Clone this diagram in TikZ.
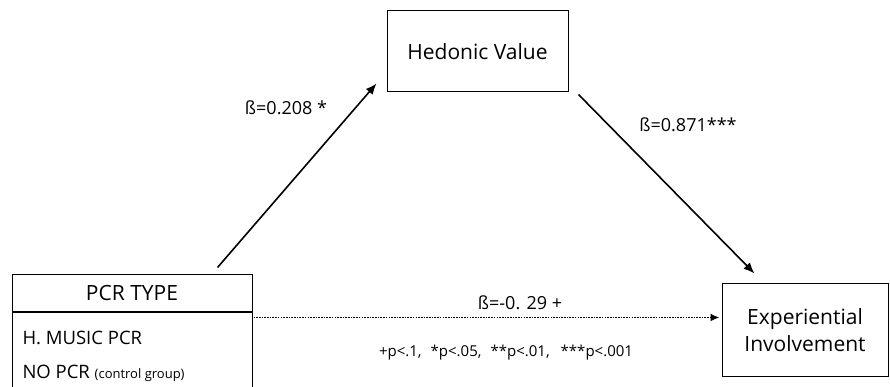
\documentclass[tikz,border=0pt]{standalone}
\usepackage{fontspec}
\setmainfont{Open Sans}
\usetikzlibrary{arrows.meta,calc}

\tikzset{
  varbox/.style={draw,line width=1pt,fill=white,inner sep=0pt,align=center},
  coef/.style={font=\fontsize{18}{20}\selectfont},
  arr/.style={line width=1.6pt,-{Latex[length=11pt,width=9pt]}},
  dotarr/.style={line width=1.8pt,dash pattern=on 1.6pt off 1.1pt,-{Latex[length=9pt,width=8pt]}}
}

\begin{document}
\begin{tikzpicture}[x=1pt,y=1pt]
    \useasboundingbox (0,0) rectangle (890,387);
    \node[varbox,minimum width=181,minimum height=81,font=\fontsize{21}{24}\selectfont] (hed) at (477.5,335.5) {Hedonic Value};
    \node[varbox,minimum width=166,minimum height=93,font=\fontsize{21}{27}\selectfont] (exp) at (805,56.5) {Experiential\\Involvement};
    \node[varbox,minimum width=240,minimum height=37,font=\fontsize{21}{24}\selectfont] (pcrhead) at (132,93.5) {PCR TYPE};
    \node[varbox,minimum width=240,minimum height=85,anchor=north west] (pcrbody) at (pcrhead.south west) {};
    \node[anchor=west,font=\fontsize{18.5}{20}\selectfont] (hmusic) at (19,49) {H. MUSIC PCR};
    \node[anchor=west,font=\fontsize{18.5}{20}\selectfont] (nopcr) at (19,14) {NO PCR {\fontsize{13}{15}\selectfont(control group)}};
    \coordinate (dotstart) at ($(pcrbody.north east)+(1,-5)$);
    \draw[arr] ($(pcrhead.north east)+(-35,7)$) -- ($(hed.south west)+(-10,9)$);
    \draw[arr] ($(hed.south east)+(10,-2)$) -- ($(exp.north west)+(33,10)$);
    \draw[dotarr] (dotstart) -- ($(exp.west |- dotstart)+(-2,0)$);
    \node[coef] (b1) at (286,279) {ß=0.208 *};
    \node[coef] (b2) at (688,262) {ß=0.871***};
    \node[coef] (b3) at (520,84) {ß=-0. 29 +};
    \node[font=\fontsize{15}{17}\selectfont] (note) at (506,34) {+p<.1,\hspace{9pt}*p<.05,\hspace{9pt}**p<.01,\hspace{11pt}***p<.001};
\end{tikzpicture}
\end{document}
